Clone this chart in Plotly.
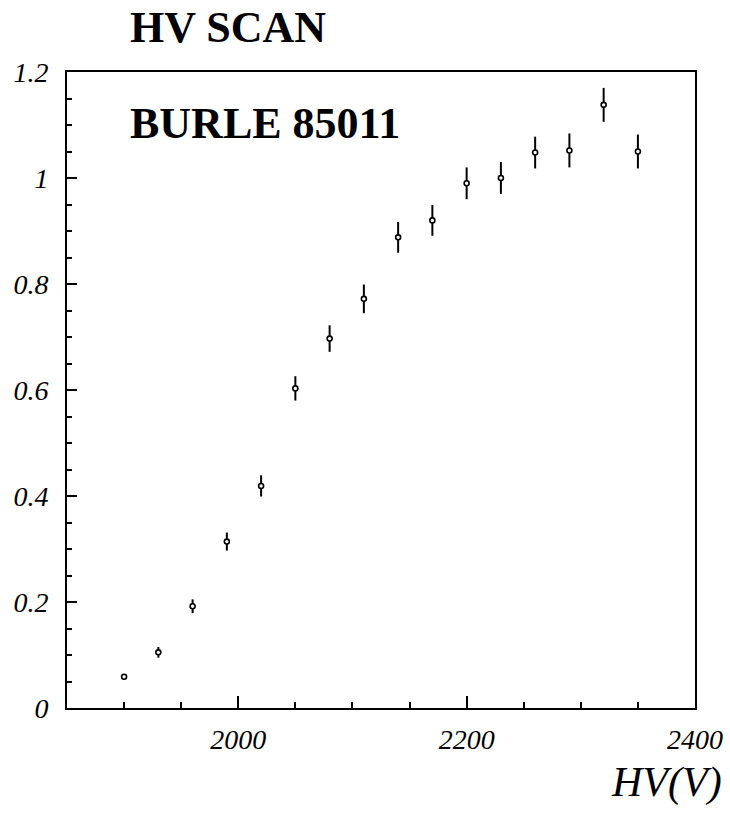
import plotly.graph_objects as go

hv = [1900, 1930, 1960, 1990, 2020, 2050, 2080, 2110, 2140, 2170, 2200, 2230, 2260, 2290, 2320, 2350]
gain = [0.059, 0.105, 0.192, 0.314, 0.419, 0.603, 0.697, 0.772, 0.888, 0.920, 0.990, 1.000, 1.048, 1.052, 1.138, 1.050]
err = [0.005, 0.010, 0.013, 0.017, 0.020, 0.023, 0.025, 0.027, 0.029, 0.029, 0.030, 0.030, 0.030, 0.032, 0.032, 0.032]

title_text = "HV SCAN"
label_text = "BURLE 85011"
xlabel_text = "HV(V)"

FONT = "Liberation Serif"

fig = go.Figure()
fig.add_trace(go.Scatter(
    x=hv, y=gain, mode="markers",
    marker=dict(symbol="circle", size=5, color="white", line=dict(color="black", width=1.6)),
    error_y=dict(type="data", array=err, visible=True, color="black", thickness=2, width=0),
    showlegend=False,
))

fig.update_layout(
    width=730, height=830,
    margin=dict(l=67, r=35, t=72, b=122, autoexpand=False),
    paper_bgcolor="white", plot_bgcolor="white",
    font=dict(family=FONT, color="black"),
    xaxis=dict(
        range=[1850, 2400], tick0=2000, dtick=200, automargin=False,
        ticks="inside", ticklen=12, tickwidth=1.5, tickcolor="black",
        minor=dict(dtick=50, tick0=2000, ticks="inside", ticklen=6, tickwidth=1.5, tickcolor="black"),
        showline=True, linewidth=2, linecolor="black", mirror=True,
        showgrid=False, zeroline=False,
        tickfont=dict(family=FONT, size=28, color="black", style="italic"),
        ticklabelstandoff=5,
    ),
    yaxis=dict(
        range=[0, 1.2], tick0=0, dtick=0.2, automargin=False,
        ticks="inside", ticklen=10, tickwidth=1.5, tickcolor="black",
        minor=dict(dtick=0.05, tick0=0, ticks="inside", ticklen=5, tickwidth=1.5, tickcolor="black"),
        showline=True, linewidth=2, linecolor="black", mirror=True,
        showgrid=False, zeroline=False,
        tickfont=dict(family=FONT, size=28, color="black", style="italic"),
        ticklabelstandoff=11,
        tickformat="~g",
    ),
    annotations=[
        dict(text=title_text, xref="paper", yref="paper", x=(228 - 67) / 628, y=1 + (72 - 27) / 636,
             xanchor="center", yanchor="middle", showarrow=False,
             font=dict(family=FONT, size=44, color="black", weight="bold")),
        dict(text=label_text, xref="paper", yref="paper", x=(128 - 67) / 628, y=(708 - 124) / 636,
             xanchor="left", yanchor="middle", showarrow=False,
             font=dict(family=FONT, size=44, color="black", weight="bold")),
        dict(text=xlabel_text, xref="paper", yref="paper", x=(724 - 67) / 628, y=-(782 - 708) / 636,
             xanchor="right", yanchor="middle", showarrow=False,
             font=dict(family=FONT, size=42, color="black", style="italic")),
    ],
)

fig.write_html("out.html")
